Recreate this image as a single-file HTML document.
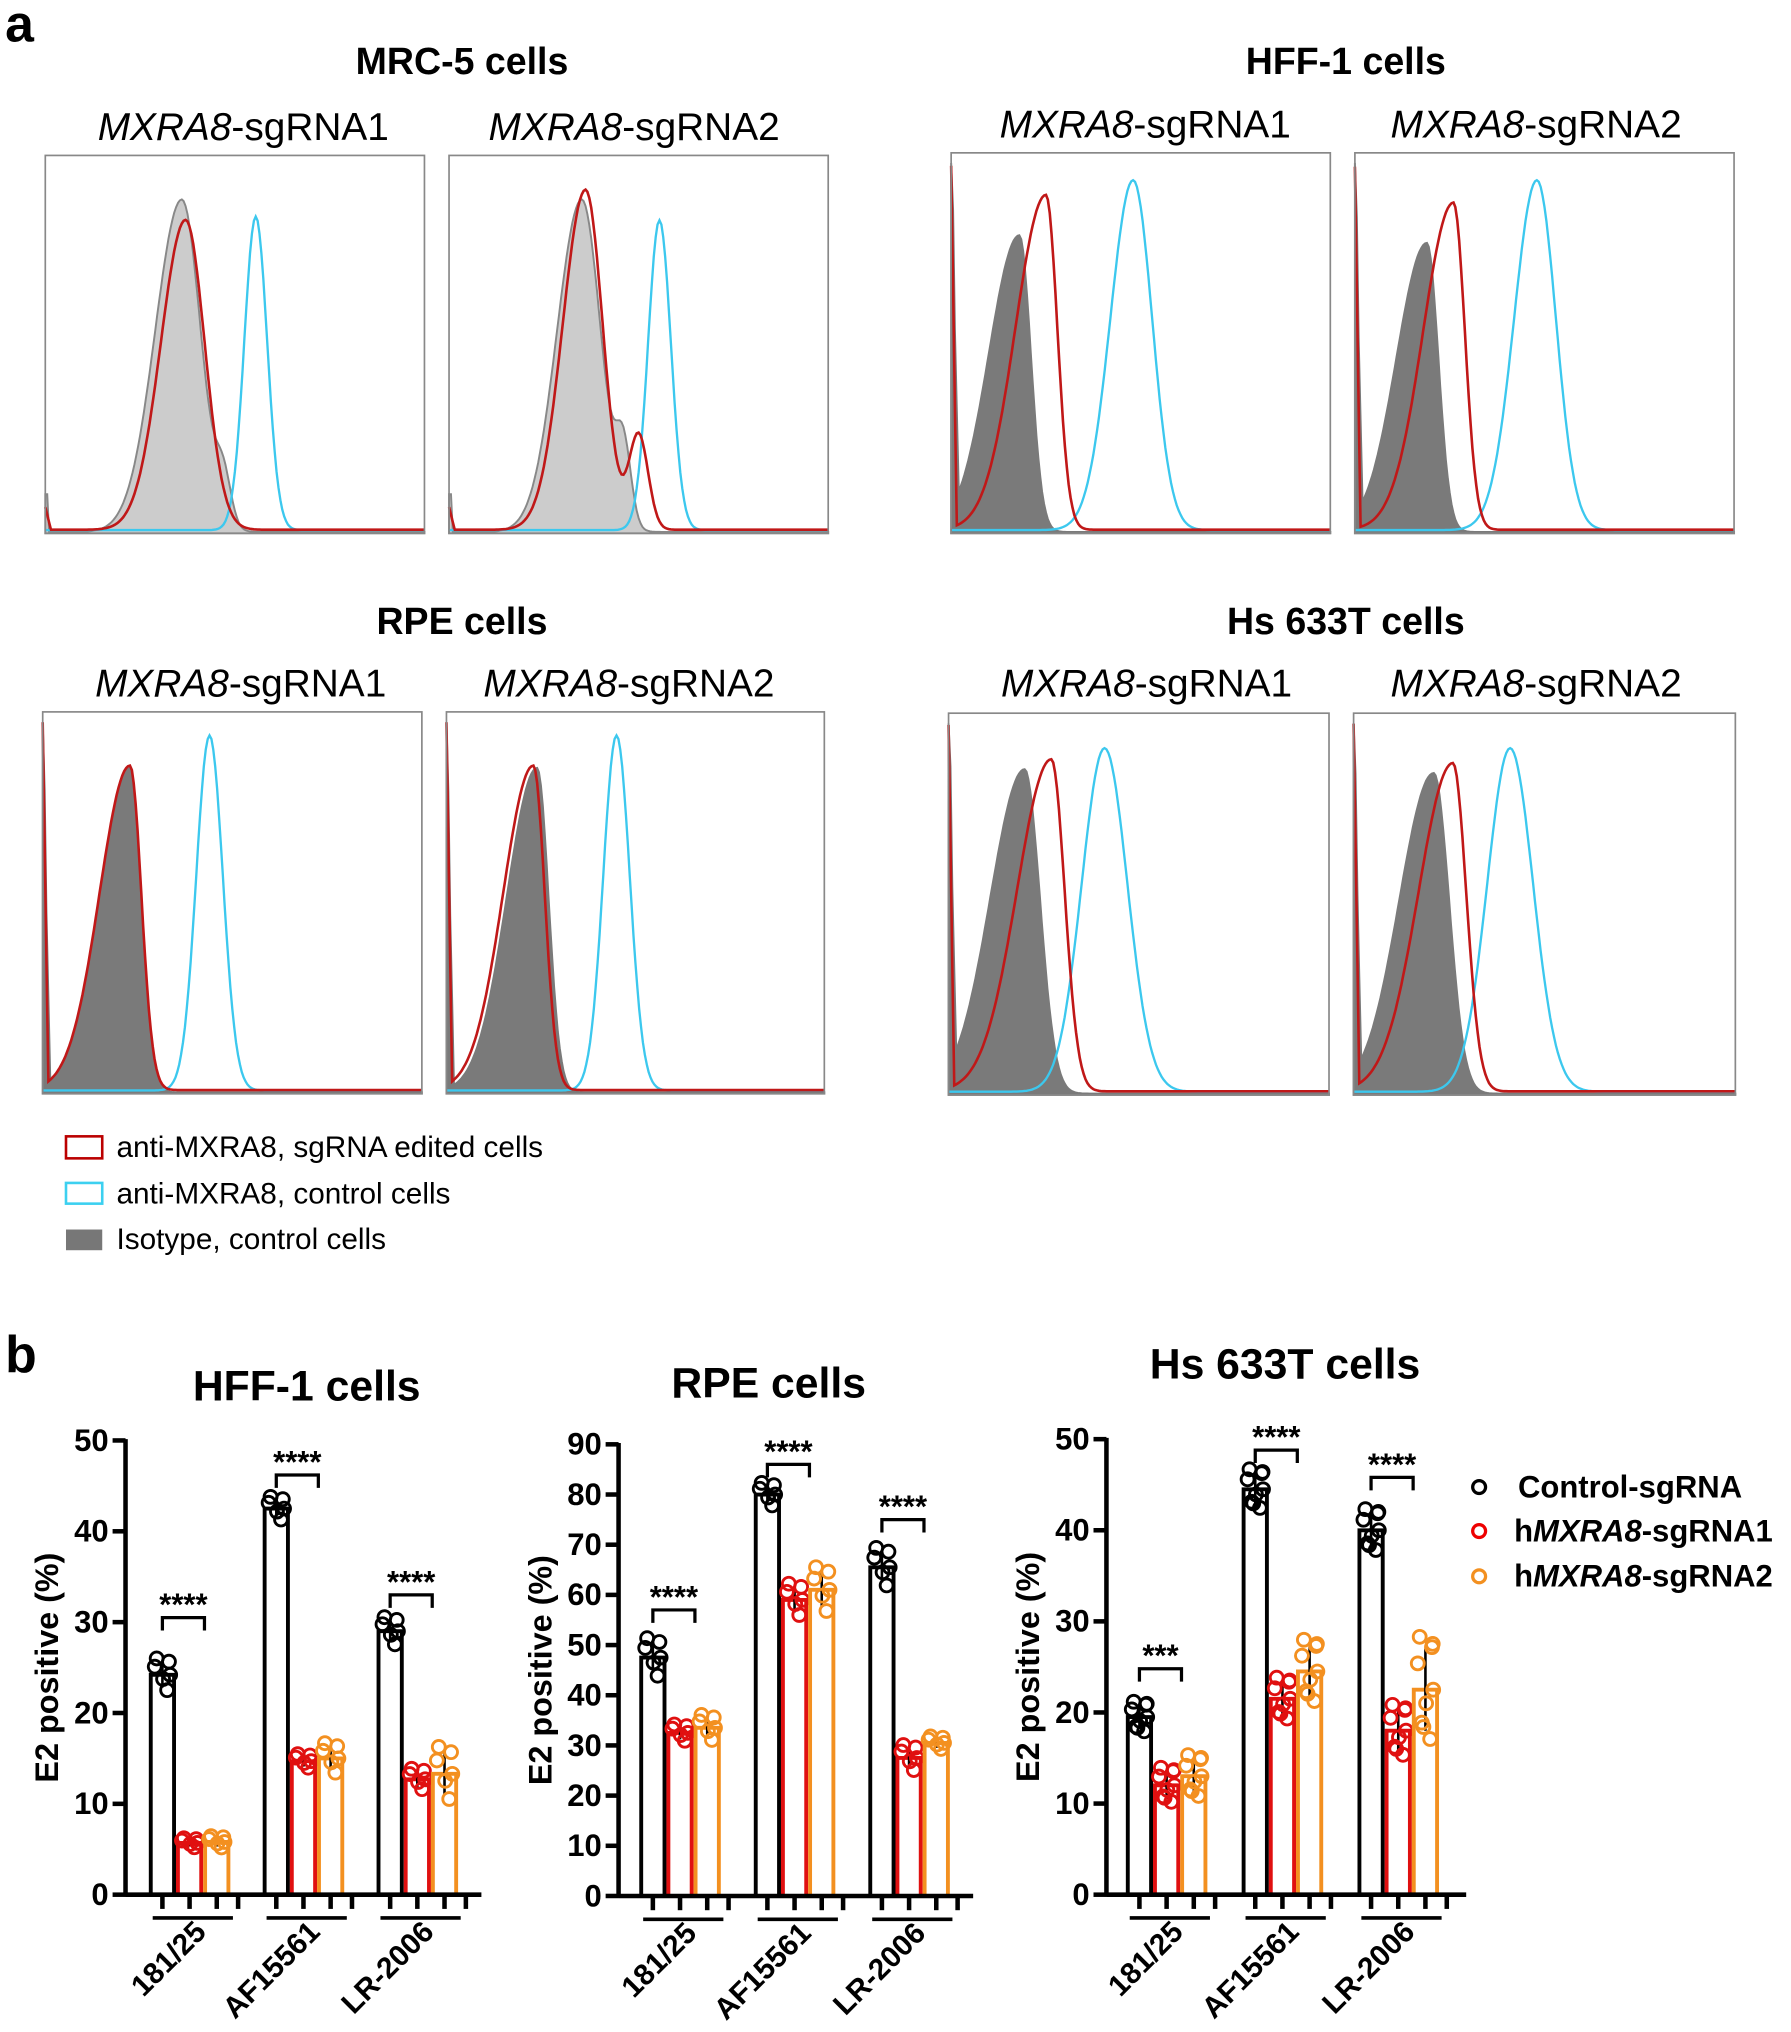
<!DOCTYPE html>
<html><head><meta charset="utf-8">
<style>
html,body{margin:0;padding:0;background:#fff;}
svg{display:block;}
text{font-family:"Liberation Sans",Arial,sans-serif;}
</style></head>
<body>
<svg id="s" width="1791" height="2032" viewBox="0 0 1384 1570" xmlns="http://www.w3.org/2000/svg">
<rect width="1384" height="1570" fill="#fff"/>
<text x="4" y="32" font-size="40" font-weight="bold">a</text>
<text x="357" y="57" font-size="29" font-weight="bold" text-anchor="middle">MRC-5 cells</text>
<text x="1040" y="57" font-size="29" font-weight="bold" text-anchor="middle">HFF-1 cells</text>
<text x="357" y="490" font-size="29" font-weight="bold" text-anchor="middle">RPE cells</text>
<text x="1040" y="490" font-size="29" font-weight="bold" text-anchor="middle">Hs 633T cells</text>
<g font-size="30" text-anchor="middle">
<text x="188" y="108"><tspan font-style="italic">MXRA8</tspan>-sgRNA1</text>
<text x="490" y="108"><tspan font-style="italic">MXRA8</tspan>-sgRNA2</text>
<text x="885" y="106"><tspan font-style="italic">MXRA8</tspan>-sgRNA1</text>
<text x="1187" y="106"><tspan font-style="italic">MXRA8</tspan>-sgRNA2</text>
<text x="186" y="538"><tspan font-style="italic">MXRA8</tspan>-sgRNA1</text>
<text x="486" y="538"><tspan font-style="italic">MXRA8</tspan>-sgRNA2</text>
<text x="886" y="538"><tspan font-style="italic">MXRA8</tspan>-sgRNA1</text>
<text x="1187" y="538"><tspan font-style="italic">MXRA8</tspan>-sgRNA2</text>
</g>
<g font-size="23">
<rect x="51" y="878" width="28" height="17" fill="none" stroke="#b00" stroke-width="2"/>
<text x="90" y="894">anti-MXRA8, sgRNA edited cells</text>
<rect x="51" y="914" width="28" height="16" fill="none" stroke="#3cd0f0" stroke-width="2"/>
<text x="90" y="930">anti-MXRA8, control cells</text>
<rect x="51" y="950" width="28" height="16" fill="#777"/>
<text x="90" y="965">Isotype, control cells</text>
</g>
<text x="4" y="1060" font-size="40" font-weight="bold">b</text>
<text x="237" y="1082" font-size="33" font-weight="bold" text-anchor="middle">HFF-1 cells</text>
<text x="594" y="1080" font-size="33" font-weight="bold" text-anchor="middle">RPE cells</text>
<text x="993" y="1065" font-size="33" font-weight="bold" text-anchor="middle">Hs 633T cells</text>
<g font-size="24" font-weight="bold">
<circle cx="1143" cy="1149" r="5" fill="none" stroke="#000" stroke-width="2.5"/>
<text x="1173" y="1157">Control-sgRNA</text>
<circle cx="1143" cy="1183" r="5" fill="none" stroke="#e00" stroke-width="2.5"/>
<text x="1170" y="1191">h<tspan font-style="italic">MXRA8</tspan>-sgRNA1</text>
<circle cx="1143" cy="1218" r="5" fill="none" stroke="#f39020" stroke-width="2.5"/>
<text x="1170" y="1226">h<tspan font-style="italic">MXRA8</tspan>-sgRNA2</text>
</g>
<g id="g"></g>
</svg>
<script>
var g=document.getElementById('g'),h='';
function gau(x,m,sl,sr){var s=x<m?sl:sr;return Math.exp(-0.5*Math.pow((x-m)/s,2));}
function curve(f){var a=[];for(var i=0;i<=200;i++){var x=i/200;a.push([x,f(x)]);}return a;}
function pth(b,pts,close){var d='';pts.forEach(function(p,i){var X=b[0]+p[0]*b[2],Y=b[1]+b[3]-1-Math.min(p[1],0.97)*b[3];d+=(i?'L':'M')+X.toFixed(1)+','+Y.toFixed(1);});if(close)d+='L'+(b[0]+b[2])+','+(b[1]+b[3])+'L'+b[0]+','+(b[1]+b[3])+'Z';return d;}
var boxes=[
 {b:[35,120,293,292],gc:'#ccc',gs:'#888',g:[0.36,0.07,0.05,0.88],r:[0.37,0.065,0.05,0.82],c:[0.555,0.03,0.03,0.83],rb:0,gb:[0.47,0.02,0.12]},
 {b:[347,120,293,292],gc:'#ccc',gs:'#888',g:[0.35,0.065,0.05,0.88],r:[0.36,0.06,0.045,0.9],c:[0.555,0.03,0.03,0.82],rb:[0.5,0.025,0.25],gb:[0.46,0.02,0.2]},
 {b:[735,118,293,294],gc:'#7a7a7a',gs:'#7a7a7a',g:[0.18,0.08,0.03,0.78],r:[0.25,0.08,0.03,0.88],c:[0.48,0.06,0.05,0.92],sp:1},
 {b:[1047,118,293,294],gc:'#7a7a7a',gs:'#7a7a7a',g:[0.19,0.08,0.03,0.76],r:[0.26,0.08,0.03,0.86],c:[0.48,0.06,0.05,0.92],sp:1},
 {b:[33,550,293,295],gc:'#7a7a7a',gs:'#7a7a7a',g:[0.23,0.08,0.03,0.85],r:[0.23,0.08,0.03,0.85],c:[0.44,0.035,0.035,0.93],sp:1},
 {b:[345,550,292,295],gc:'#7a7a7a',gs:'#7a7a7a',g:[0.24,0.08,0.03,0.85],r:[0.23,0.08,0.03,0.85],c:[0.45,0.035,0.035,0.93],sp:1},
 {b:[733,551,294,295],gc:'#7a7a7a',gs:'#7a7a7a',g:[0.2,0.09,0.04,0.85],r:[0.27,0.09,0.035,0.87],c:[0.41,0.06,0.06,0.9],sp:1},
 {b:[1046,551,295,295],gc:'#7a7a7a',gs:'#7a7a7a',g:[0.21,0.09,0.04,0.84],r:[0.26,0.09,0.035,0.86],c:[0.41,0.06,0.06,0.9],sp:1}
];
boxes.forEach(function(o){var b=o.b;
 var gp=curve(function(x){var v=o.g[3]*gau(x,o.g[0],o.g[1],o.g[2]);if(o.gb)v+=o.gb[2]*gau(x,o.gb[0],o.gb[1],o.gb[1]);return v+(x<0.02&&o.sp?0.9*(1-x/0.02):0)+(x<0.01?0.1:0);});
 h+='<path d="'+pth(b,gp,1)+'" fill="'+o.gc+'" stroke="'+o.gs+'" stroke-width="1.5"/>';
 var cp=curve(function(x){return o.c[3]*gau(x,o.c[0],o.c[1],o.c[2])+0.005;});
 h+='<path d="'+pth(b,cp)+'" fill="none" stroke="#3cc8ee" stroke-width="1.8"/>';
 var rp=curve(function(x){var v=o.r[3]*gau(x,o.r[0],o.r[1],o.r[2]);if(o.rb)v+=o.rb[2]*gau(x,o.rb[0],o.rb[1],o.rb[1]);return v+0.006+(x<0.015?(o.sp?0.95:0.06)*(1-x/0.015):0);});
 h+='<path d="'+pth(b,rp)+'" fill="none" stroke="#c01818" stroke-width="2"/>';
 h+='<rect x="'+b[0]+'" y="'+b[1]+'" width="'+b[2]+'" height="'+b[3]+'" fill="none" stroke="#888" stroke-width="1.3"/>';
});
var cols=['#000','#e01010','#f39020'];
var charts=[
 {ax:97,top:1113,bot:1464,max:50,step:10,x0:115,gx:88,end:372,vals:[[24.2,5.7,5.8],[42.5,14.7,15],[29,12.7,13.3]],sd:[[1.4,0.4,0.5],[1,0.6,1.3],[1.2,0.9,2.3]],st:[['****',30.5],['****',46.2],['****',33]]},
 {ax:478,top:1116,bot:1465,max:90,step:10,x0:494,gx:88.5,end:752,vals:[[47.5,32.5,33.5],[80,59,61],[65.5,27.5,30.5]],sd:[[3,1.3,2],[1.8,2.5,3.5],[3,2,1]],st:[['****',57],['****',86],['****',75]]},
 {ax:855,top:1112,bot:1464,max:50,step:10,x0:870,gx:89.5,end:1133,vals:[[19.5,12,13],[44.5,21.5,24.5],[40,18,22.5]],sd:[[1.3,1.5,1.8],[1.7,1.8,2.7],[1.8,2.2,4.5]],st:[['***',24.8],['****',48.8],['****',45.8]]}
];
var labs=['181/25','AF15561','LR-2006'];
charts.forEach(function(c,ci){
 var sc=(c.bot-c.top)/c.max,bw=21,W=3.5;
 function Y(v){return c.bot-v*sc;}
 h+='<text transform="translate('+(c.ax-52)+','+((c.top+c.bot)/2)+') rotate(-90)" font-size="25" font-weight="bold" text-anchor="middle">E2 positive (%)</text>';
 for(var v=0;v<=c.max;v+=c.step){h+='<line x1="'+(c.ax-10)+'" x2="'+c.ax+'" y1="'+Y(v)+'" y2="'+Y(v)+'" stroke="#000" stroke-width="'+W+'"/>';
  h+='<text x="'+(c.ax-13)+'" y="'+(Y(v)+8)+'" font-size="24" font-weight="bold" text-anchor="end">'+v+'</text>';}
 h+='<line x1="'+c.ax+'" x2="'+c.ax+'" y1="'+(c.top-1)+'" y2="'+(c.bot+1.5)+'" stroke="#000" stroke-width="'+W+'"/>';
 for(var gi=0;gi<3;gi++){var gx=c.x0+gi*c.gx;
  for(var k=0;k<3;k++){var x=gx+k*bw+1.5,v=c.vals[gi][k];
   h+='<path d="M'+x+','+c.bot+'V'+Y(v)+'H'+(x+bw-3)+'V'+c.bot+'" fill="#fff" stroke="'+cols[k]+'" stroke-width="3"/>';
   var cx=x+bw/2-1.5,sd=c.sd[gi][k];
   h+='<line x1="'+cx+'" x2="'+cx+'" y1="'+Y(v+sd)+'" y2="'+Y(v-sd)+'" stroke="#000" stroke-width="2"/>';
   var n=ci==2?9:6;
   for(var p=0;p<n;p++){var ang=p*2.4,dx=Math.cos(ang)*6,dv=sd*1.3*Math.sin(p*1.7);
    h+='<circle cx="'+(cx+dx)+'" cy="'+Y(v+dv)+'" r="5" fill="none" stroke="'+(k==0?'#000':cols[k])+'" stroke-width="2.2"/>';}
   h+='<line x1="'+cx+'" x2="'+cx+'" y1="'+c.bot+'" y2="'+(c.bot+11)+'" stroke="#000" stroke-width="'+W+'"/>';
  }
  var sx=gx+3*bw+6;h+='<line x1="'+sx+'" x2="'+sx+'" y1="'+c.bot+'" y2="'+(c.bot+11)+'" stroke="#000" stroke-width="'+W+'"/>';
  h+='<line x1="'+(gx+3)+'" x2="'+(gx+3*bw+2)+'" y1="'+(c.bot+18)+'" y2="'+(c.bot+18)+'" stroke="#000" stroke-width="2.8"/>';
  var lc=gx+bw*1.5;
  h+='<text transform="translate('+(lc+14)+','+(c.bot+30)+') rotate(-45)" font-size="23" font-weight="bold" text-anchor="end">'+labs[gi]+'</text>';
  var st=c.st[gi],by=Y(st[1]),x1=gx+bw/2,x2=gx+bw*2+1;
  h+='<path d="M'+x1+','+(by+10)+'V'+by+'H'+x2+'V'+(by+10)+'" fill="none" stroke="#000" stroke-width="2.5"/>';
  h+='<text x="'+((x1+x2)/2)+'" y="'+(by-2)+'" font-size="24" font-weight="bold" text-anchor="middle">'+st[0]+'</text>';
 }
 h+='<line x1="'+c.ax+'" x2="'+c.end+'" y1="'+c.bot+'" y2="'+c.bot+'" stroke="#000" stroke-width="'+W+'"/>';
});
g.innerHTML=h;
</script>
</body></html>
